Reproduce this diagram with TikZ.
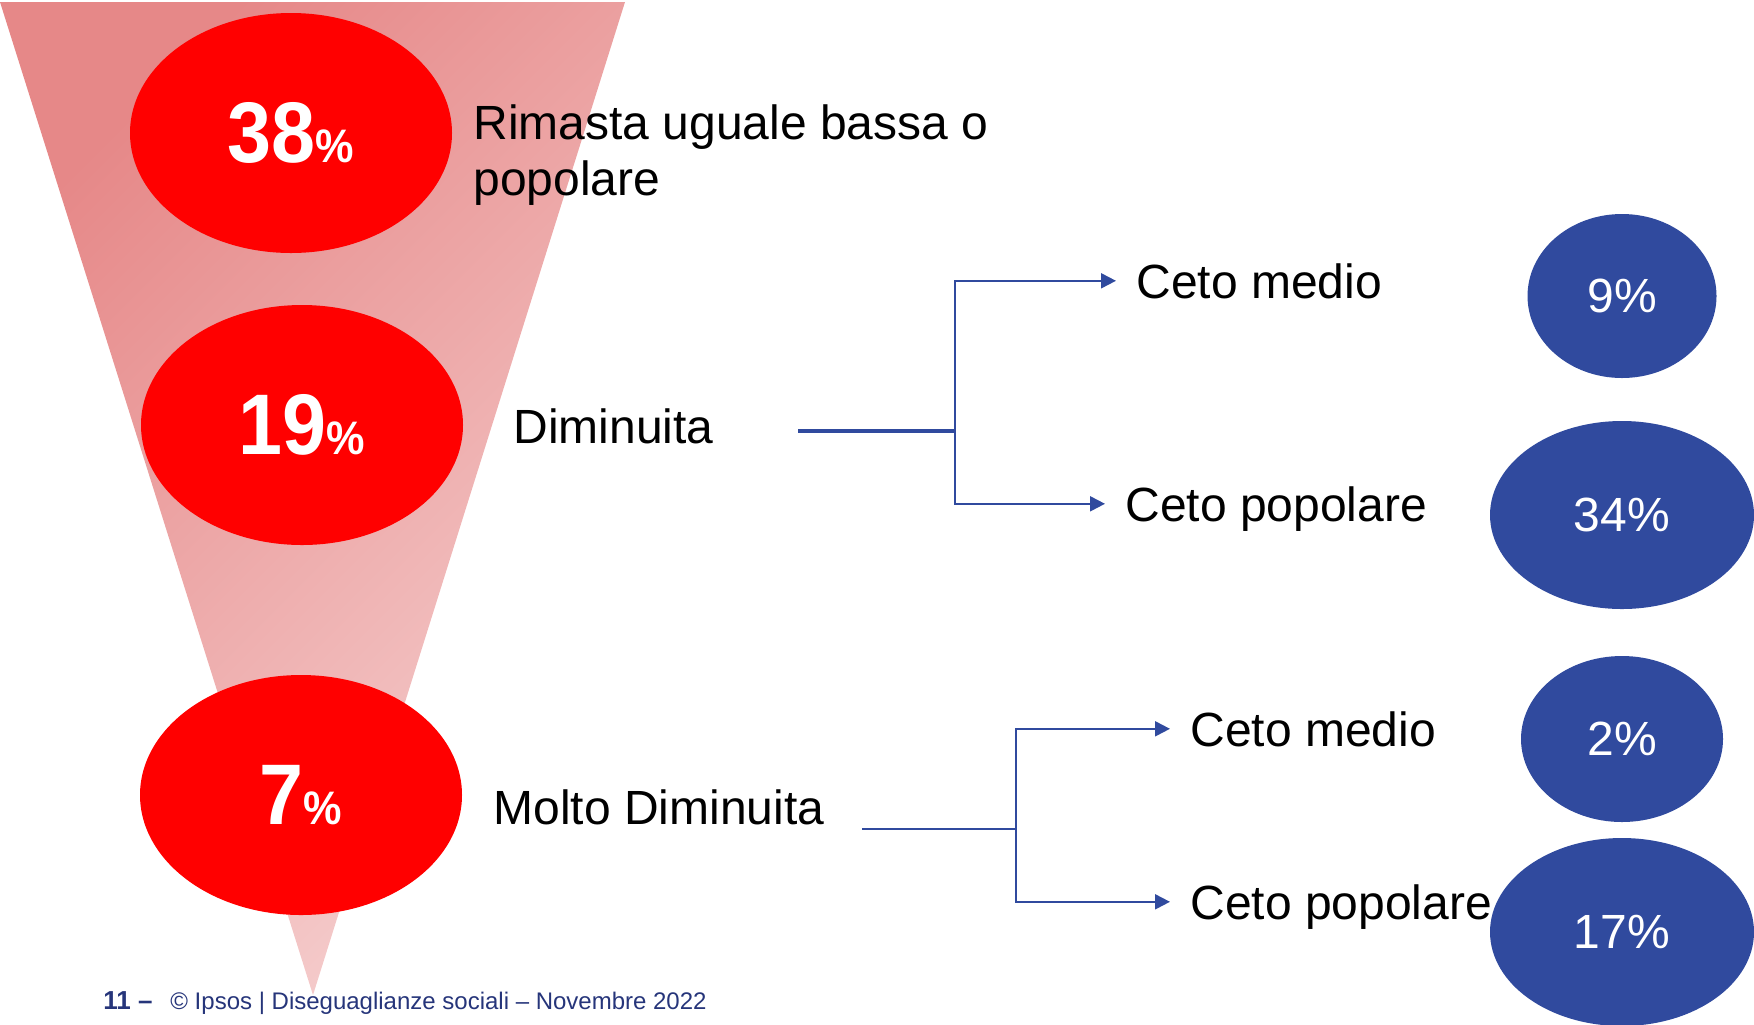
\documentclass[tikz,border=0pt]{standalone}
\usepackage{fontspec}
\setmainfont{Liberation Sans}
\newfontfamily\numfont[FakeStretch=0.92]{Liberation Sans Bold}
\usetikzlibrary{shapes.geometric, arrows.meta}

\definecolor{ipsosred}{RGB}{255,0,0}
\definecolor{ipsosblue}{RGB}{48,74,158}
\definecolor{footblue}{RGB}{38,53,122}
\definecolor{funneldark}{RGB}{230,136,136}
\definecolor{funnellight}{RGB}{245,206,206}

\tikzset{
  redball/.style={ellipse, fill=ipsosred, text=white, inner sep=0pt,
    minimum width=161pt, minimum height=120pt},
  blueball/.style={ellipse, fill=ipsosblue, text=white, inner sep=0pt,
    font=\fontsize{24}{28}\selectfont},
  lbl/.style={anchor=base west, inner sep=0pt, font=\fontsize{24}{28}\selectfont},
  ceto/.style={lbl, inner xsep=10pt},
  link/.style={draw=ipsosblue, line width=1pt},
  arr/.style={link, -{Triangle[length=7.5pt,width=7.5pt]}},
  foot/.style={anchor=base west, inner sep=0pt, text=footblue}
}
\newcommand{\bigpct}[1]{{\numfont\fontsize{43}{43}\selectfont #1}{\numfont\fontsize{23.5}{23.5}\selectfont\%}}

\begin{document}
\begin{tikzpicture}[x=0.5pt, y=-0.5pt]
  \useasboundingbox (0,0) rectangle (1754,1024);
  % funnel
  \shade[top color=funneldark, bottom color=funnellight, shading angle=45]
    (0,2) -- (625,2) -- (313,995) -- cycle;

  % red values
  \foreach \n/\x/\y/\v in {r1/291/133/38, r2/302/425/19, r3/301/795/7}{
    \node[redball] (\n) at (\x,\y) {\bigpct{\v}};
  }

  % labels
  \node[lbl, anchor=west, align=left] (rim) at (473,155) {Rimasta uguale bassa o\\popolare};
  \node[lbl] (dim) at (513,443) {Diminuita};
  \node[lbl] (mdim) at (493,824) {Molto Diminuita};
  \node[ceto] (cm1) at (1116,298) {Ceto medio};
  \node[ceto] (cp1) at (1105,521) {Ceto popolare};
  \node[ceto] (cm2) at (1170,746) {Ceto medio};
  \node[ceto] (cp2) at (1170,919) {Ceto popolare};

  % blue values
  \foreach \n/\y/\w/\h/\v in {b1/296/94.5/82/9, b2/515/132/94/34, b3/739/101/83/2, b4/932/132/94/17}{
    \node[blueball, minimum width=\w pt, minimum height=\h pt] (\n) at (1622,\y) {\v\%};
  }

  % connectors
  \coordinate (d0) at (798,431);
  \coordinate (d1) at (955,431);
  \draw[link, line width=2pt] (d0) -- (d1);
  \draw[arr] (d1) |- ([yshift=8.6pt]cm1.base west);
  \draw[arr] (d1) |- ([yshift=8.6pt]cp1.base west);
  \coordinate (m0) at (862,829);
  \coordinate (m1) at (1016,829);
  \draw[link] (m0) -- (m1);
  \draw[arr] (m1) |- ([yshift=8.6pt]cm2.base west);
  \draw[arr] (m1) |- ([yshift=8.6pt]cp2.base west);

  % footer
  \node[foot, font=\bfseries\fontsize{13}{15}\selectfont] (pg) at (103,1009) {11 –};
  \node[foot, font=\fontsize{12}{14}\selectfont] (src) at (170,1009) {© Ipsos | Diseguaglianze sociali – Novembre 2022};
\end{tikzpicture}
\end{document}
